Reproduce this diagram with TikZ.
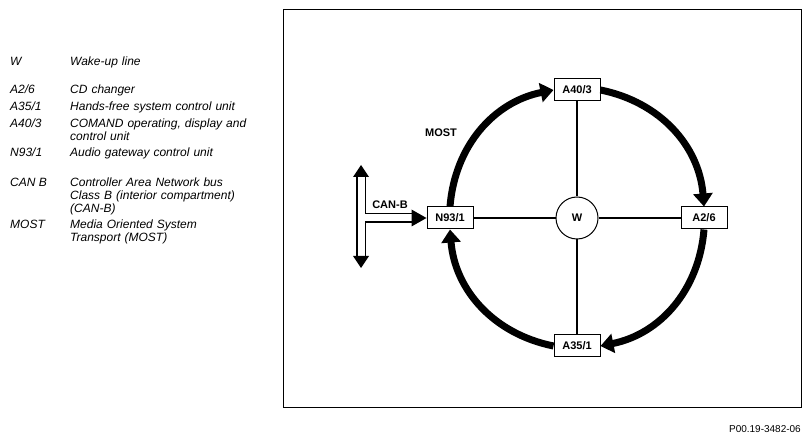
\documentclass[tikz,border=0pt]{standalone}
\usepackage{fontspec}
\setmainfont{Liberation Sans}
\usetikzlibrary{arrows.meta, positioning}
\tikzset{
    ecu/.style={rectangle, draw=black, line width=1pt, fill=white, minimum width=46pt, minimum height=22pt, inner sep=1pt, font=\fontsize{11}{13}\selectfont\bfseries},
    wake/.style={circle, draw=black, line width=1pt, fill=white, minimum size=42pt, inner sep=0pt, font=\fontsize{11}{13}\selectfont\bfseries},
    mostarc/.style={line width=7pt, -{Triangle[length=13pt,width=19pt]}, bend left=37},
    spoke/.style={line width=1.2pt},
    bus/.style={line width=1.2pt, double=white, double distance=7pt},
    busname/.style={inner sep=0pt, font=\fontsize{11}{13}\selectfont\bfseries},
    legkey/.style={anchor=base west, inner sep=0pt, font=\fontsize{12}{13}\selectfont\itshape},
    legtext/.style={legkey, text width=190pt, align=left}
}

\begin{document}
\begin{tikzpicture}[x=1pt, y=1pt]
    \useasboundingbox (0,0) rectangle (811,439);

    % legend
    \node (kw) [legkey] at (10,373) {W};
    \node (tw) [legtext] at (70,373) {Wake-up line};
    \node (ka26) [legkey] at (10,345) {A2/6};
    \node (ta26) [legtext] at (70,345) {CD changer};
    \node (ka35) [legkey] at (10,328) {A35/1};
    \node (ta35) [legtext] at (70,328) {Hands-free system control unit};
    \node (ka40) [legkey] at (10,311) {A40/3};
    \node (ta40) [legtext] at (70,311) {COMAND operating, display and\\control unit};
    \node (kn93) [legkey] at (10,282) {N93/1};
    \node (tn93) [legtext] at (70,282) {Audio gateway control unit};
    \node (kcan) [legkey] at (10,252) {CAN B};
    \node (tcan) [legtext] at (70,252) {Controller Area Network bus\\Class B (interior compartment)\\(CAN-B)};
    \node (kmost) [legkey] at (10,210) {MOST};
    \node (tmost) [legtext] at (70,210) {Media Oriented System\\Transport (MOST)};

    % frame
    \draw [line width=1pt] (283,31) rectangle (801,429);

    % ring
    \node (w) [wake] at (577,221) {W};
    \node (a40) [ecu] at (577,349) {A40/3};
    \node (a35) [ecu] at (577,93) {A35/1};
    \node (n93) [ecu] at (450,221) {N93/1};
    \node (a26) [ecu] at (704,221) {A2/6};

    \draw [spoke] (a40) -- (w);
    \draw [spoke] (w) -- (a35);
    \draw [spoke] (n93) -- (w);
    \draw [spoke, line width=2pt] (w) -- (a26);

    \draw [mostarc] (a40.east) to (a26.north);
    \draw [mostarc] (a26.south) to (a35.east);
    \draw [mostarc] (a35.west) to (n93.south);
    \draw [mostarc] (n93.north) to (a40.west);
    \node (mostlbl) [busname] at (441,306) {MOST};

    % CAN-B bus
    \coordinate (bustop) at (361,274);
    \coordinate (busbot) at (361,171);
    \coordinate (busjoin) at (361,221);
    \draw [bus] ([yshift=-12pt]bustop) -- ([yshift=12pt]busbot)
        (busjoin) -- ([xshift=-15pt]n93.west);
    \fill (bustop) -- ++(-8,-12) -- ++(16,0) -- cycle;
    \fill (busbot) -- ++(-8,12) -- ++(16,0) -- cycle;
    \fill (n93.west) -- ++(-15,8.5) -- ++(0,-17) -- cycle;
    \node (canlbl) [busname] at (390,234) {CAN-B};

    \node (ref) [anchor=base east, inner sep=0pt, font=\fontsize{10}{12}\selectfont] at (801,7) {P00.19-3482-06};
\end{tikzpicture}
\end{document}
